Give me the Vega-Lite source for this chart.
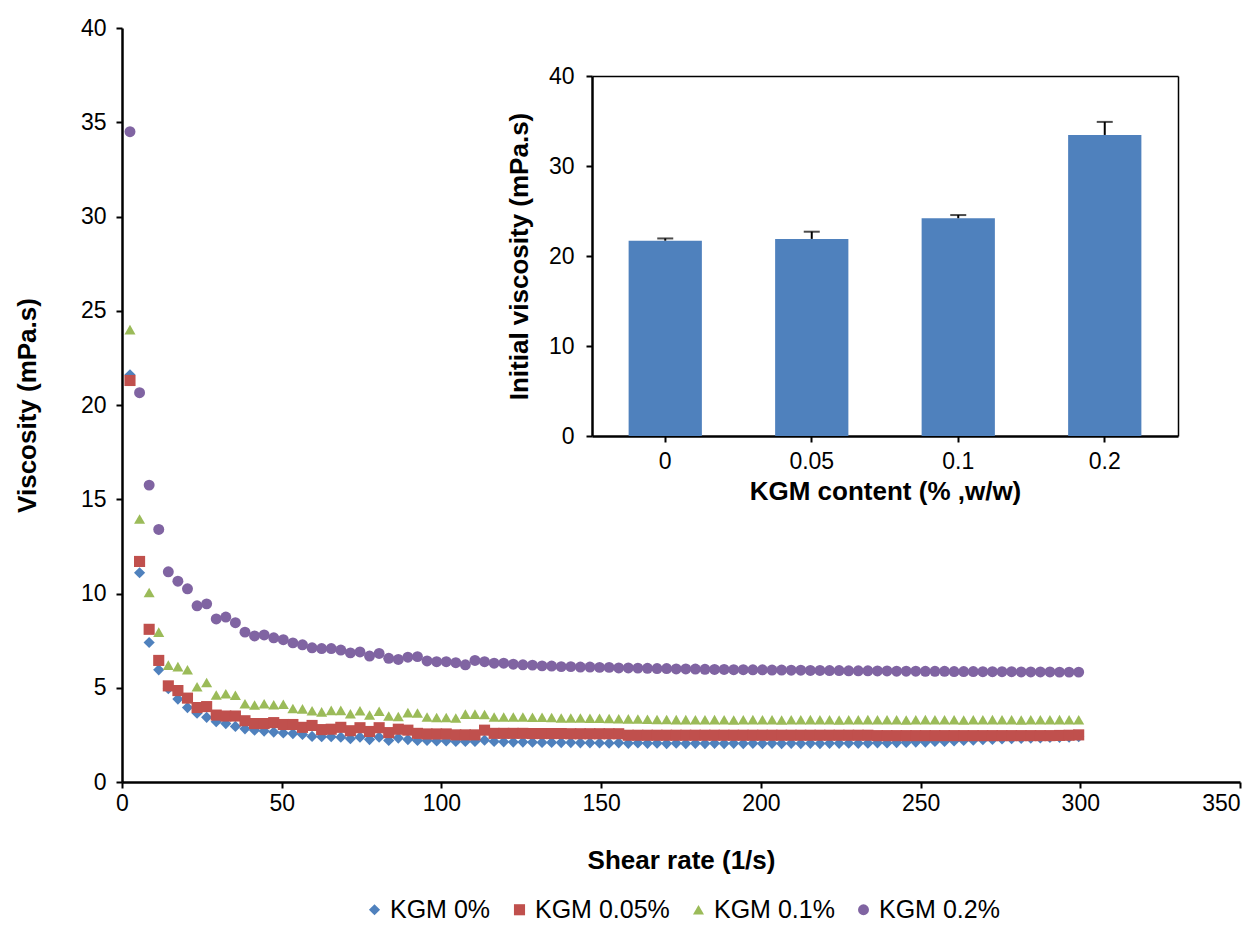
{
"$schema":"https://vega.github.io/schema/vega-lite/v6.json",
"width":1118,"height":754,"autosize":"none",
"padding":{"left":122,"top":28,"right":18,"bottom":150},
"background":"white",
"config":{"view":{"stroke":null},"font":"Liberation Sans",
"axis":{"domainColor":"black","domainWidth":2.5,"tickColor":"black","tickWidth":2,"tickSize":6,"labelColor":"black","labelFontSize":23,"labelFont":"Liberation Sans","titleFont":"Liberation Sans","titleFontSize":26,"titleFontWeight":"bold","titleColor":"black","grid":false,"labelOverlap":false,"labelFlush":false},
"legend":{"labelFont":"Liberation Sans","labelFontSize":25,"labelColor":"black","padding":0}},
"datasets":{
"curves":[
{"r":2.5,"s":"KGM 0%","v":21.6},{"r":5.5,"s":"KGM 0%","v":11.1},{"r":8.5,"s":"KGM 0%","v":7.4},{"r":11.5,"s":"KGM 0%","v":5.95},{"r":14.5,"s":"KGM 0%","v":4.95},{"r":17.5,"s":"KGM 0%","v":4.4},{"r":20.5,"s":"KGM 0%","v":3.95},{"r":23.5,"s":"KGM 0%","v":3.65},{"r":26.5,"s":"KGM 0%","v":3.43},{"r":29.5,"s":"KGM 0%","v":3.2},
{"r":32.5,"s":"KGM 0%","v":3.1},{"r":35.5,"s":"KGM 0%","v":2.95},{"r":38.5,"s":"KGM 0%","v":2.82},{"r":41.5,"s":"KGM 0%","v":2.75},{"r":44.5,"s":"KGM 0%","v":2.7},{"r":47.5,"s":"KGM 0%","v":2.65},{"r":50.5,"s":"KGM 0%","v":2.6},{"r":53.5,"s":"KGM 0%","v":2.57},{"r":56.5,"s":"KGM 0%","v":2.52},{"r":59.5,"s":"KGM 0%","v":2.42},
{"r":62.5,"s":"KGM 0%","v":2.4},{"r":65.5,"s":"KGM 0%","v":2.4},{"r":68.5,"s":"KGM 0%","v":2.38},{"r":71.5,"s":"KGM 0%","v":2.3},{"r":74.5,"s":"KGM 0%","v":2.38},{"r":77.5,"s":"KGM 0%","v":2.25},{"r":80.5,"s":"KGM 0%","v":2.38},{"r":83.5,"s":"KGM 0%","v":2.2},{"r":86.5,"s":"KGM 0%","v":2.33},{"r":89.5,"s":"KGM 0%","v":2.25},
{"r":92.5,"s":"KGM 0%","v":2.2},{"r":95.5,"s":"KGM 0%","v":2.2},{"r":98.5,"s":"KGM 0%","v":2.18},{"r":101.5,"s":"KGM 0%","v":2.18},{"r":104.5,"s":"KGM 0%","v":2.15},{"r":107.5,"s":"KGM 0%","v":2.15},{"r":110.5,"s":"KGM 0%","v":2.15},{"r":113.5,"s":"KGM 0%","v":2.22},{"r":116.5,"s":"KGM 0%","v":2.15},{"r":119.5,"s":"KGM 0%","v":2.13},
{"r":122.5,"s":"KGM 0%","v":2.12},{"r":125.5,"s":"KGM 0%","v":2.12},{"r":128.5,"s":"KGM 0%","v":2.11},{"r":131.5,"s":"KGM 0%","v":2.1},{"r":134.5,"s":"KGM 0%","v":2.1},{"r":137.5,"s":"KGM 0%","v":2.09},{"r":140.5,"s":"KGM 0%","v":2.09},{"r":143.5,"s":"KGM 0%","v":2.08},{"r":146.5,"s":"KGM 0%","v":2.08},{"r":149.5,"s":"KGM 0%","v":2.07},
{"r":152.5,"s":"KGM 0%","v":2.06},{"r":155.5,"s":"KGM 0%","v":2.08},{"r":158.5,"s":"KGM 0%","v":2.05},{"r":161.5,"s":"KGM 0%","v":2.07},{"r":164.5,"s":"KGM 0%","v":2.05},{"r":167.5,"s":"KGM 0%","v":2.06},{"r":170.5,"s":"KGM 0%","v":2.04},{"r":173.5,"s":"KGM 0%","v":2.06},{"r":176.5,"s":"KGM 0%","v":2.04},{"r":179.5,"s":"KGM 0%","v":2.05},
{"r":182.5,"s":"KGM 0%","v":2.04},{"r":185.5,"s":"KGM 0%","v":2.05},{"r":188.5,"s":"KGM 0%","v":2.04},{"r":191.5,"s":"KGM 0%","v":2.05},{"r":194.5,"s":"KGM 0%","v":2.04},{"r":197.5,"s":"KGM 0%","v":2.05},{"r":200.5,"s":"KGM 0%","v":2.04},{"r":203.5,"s":"KGM 0%","v":2.05},{"r":206.5,"s":"KGM 0%","v":2.04},{"r":209.5,"s":"KGM 0%","v":2.05},
{"r":212.5,"s":"KGM 0%","v":2.04},{"r":215.5,"s":"KGM 0%","v":2.05},{"r":218.5,"s":"KGM 0%","v":2.04},{"r":221.5,"s":"KGM 0%","v":2.05},{"r":224.5,"s":"KGM 0%","v":2.05},{"r":227.5,"s":"KGM 0%","v":2.06},{"r":230.5,"s":"KGM 0%","v":2.05},{"r":233.5,"s":"KGM 0%","v":2.06},{"r":236.5,"s":"KGM 0%","v":2.08},{"r":239.5,"s":"KGM 0%","v":2.07},
{"r":242.5,"s":"KGM 0%","v":2.09},{"r":245.5,"s":"KGM 0%","v":2.1},{"r":248.5,"s":"KGM 0%","v":2.12},{"r":251.5,"s":"KGM 0%","v":2.12},{"r":254.5,"s":"KGM 0%","v":2.15},{"r":257.5,"s":"KGM 0%","v":2.15},{"r":260.5,"s":"KGM 0%","v":2.18},{"r":263.5,"s":"KGM 0%","v":2.2},{"r":266.5,"s":"KGM 0%","v":2.22},{"r":269.5,"s":"KGM 0%","v":2.24},
{"r":272.5,"s":"KGM 0%","v":2.26},{"r":275.5,"s":"KGM 0%","v":2.28},{"r":278.5,"s":"KGM 0%","v":2.3},{"r":281.5,"s":"KGM 0%","v":2.31},{"r":284.5,"s":"KGM 0%","v":2.33},{"r":287.5,"s":"KGM 0%","v":2.34},{"r":290.5,"s":"KGM 0%","v":2.36},{"r":293.5,"s":"KGM 0%","v":2.37},{"r":296.5,"s":"KGM 0%","v":2.38},{"r":299.5,"s":"KGM 0%","v":2.4},
{"r":2.5,"s":"KGM 0.05%","v":21.3},{"r":5.5,"s":"KGM 0.05%","v":11.7},{"r":8.5,"s":"KGM 0.05%","v":8.1},{"r":11.5,"s":"KGM 0.05%","v":6.45},{"r":14.5,"s":"KGM 0.05%","v":5.1},{"r":17.5,"s":"KGM 0.05%","v":4.85},{"r":20.5,"s":"KGM 0.05%","v":4.45},{"r":23.5,"s":"KGM 0.05%","v":3.95},{"r":26.5,"s":"KGM 0.05%","v":4.0},{"r":29.5,"s":"KGM 0.05%","v":3.55},
{"r":32.5,"s":"KGM 0.05%","v":3.5},{"r":35.5,"s":"KGM 0.05%","v":3.5},{"r":38.5,"s":"KGM 0.05%","v":3.25},{"r":41.5,"s":"KGM 0.05%","v":3.1},{"r":44.5,"s":"KGM 0.05%","v":3.1},{"r":47.5,"s":"KGM 0.05%","v":3.15},{"r":50.5,"s":"KGM 0.05%","v":3.05},{"r":53.5,"s":"KGM 0.05%","v":3.05},{"r":56.5,"s":"KGM 0.05%","v":2.9},{"r":59.5,"s":"KGM 0.05%","v":3.0},
{"r":62.5,"s":"KGM 0.05%","v":2.78},{"r":65.5,"s":"KGM 0.05%","v":2.8},{"r":68.5,"s":"KGM 0.05%","v":2.9},{"r":71.5,"s":"KGM 0.05%","v":2.72},{"r":74.5,"s":"KGM 0.05%","v":2.88},{"r":77.5,"s":"KGM 0.05%","v":2.68},{"r":80.5,"s":"KGM 0.05%","v":2.88},{"r":83.5,"s":"KGM 0.05%","v":2.62},{"r":86.5,"s":"KGM 0.05%","v":2.8},{"r":89.5,"s":"KGM 0.05%","v":2.75},
{"r":92.5,"s":"KGM 0.05%","v":2.58},{"r":95.5,"s":"KGM 0.05%","v":2.55},{"r":98.5,"s":"KGM 0.05%","v":2.55},{"r":101.5,"s":"KGM 0.05%","v":2.55},{"r":104.5,"s":"KGM 0.05%","v":2.5},{"r":107.5,"s":"KGM 0.05%","v":2.5},{"r":110.5,"s":"KGM 0.05%","v":2.5},{"r":113.5,"s":"KGM 0.05%","v":2.75},{"r":116.5,"s":"KGM 0.05%","v":2.58},{"r":119.5,"s":"KGM 0.05%","v":2.58},
{"r":122.5,"s":"KGM 0.05%","v":2.58},{"r":125.5,"s":"KGM 0.05%","v":2.58},{"r":128.5,"s":"KGM 0.05%","v":2.57},{"r":131.5,"s":"KGM 0.05%","v":2.57},{"r":134.5,"s":"KGM 0.05%","v":2.57},{"r":137.5,"s":"KGM 0.05%","v":2.57},{"r":140.5,"s":"KGM 0.05%","v":2.56},{"r":143.5,"s":"KGM 0.05%","v":2.56},{"r":146.5,"s":"KGM 0.05%","v":2.56},{"r":149.5,"s":"KGM 0.05%","v":2.56},
{"r":152.5,"s":"KGM 0.05%","v":2.56},{"r":155.5,"s":"KGM 0.05%","v":2.56},{"r":158.5,"s":"KGM 0.05%","v":2.48},{"r":161.5,"s":"KGM 0.05%","v":2.48},{"r":164.5,"s":"KGM 0.05%","v":2.48},{"r":167.5,"s":"KGM 0.05%","v":2.48},{"r":170.5,"s":"KGM 0.05%","v":2.48},{"r":173.5,"s":"KGM 0.05%","v":2.48},{"r":176.5,"s":"KGM 0.05%","v":2.48},{"r":179.5,"s":"KGM 0.05%","v":2.48},
{"r":182.5,"s":"KGM 0.05%","v":2.48},{"r":185.5,"s":"KGM 0.05%","v":2.48},{"r":188.5,"s":"KGM 0.05%","v":2.48},{"r":191.5,"s":"KGM 0.05%","v":2.48},{"r":194.5,"s":"KGM 0.05%","v":2.48},{"r":197.5,"s":"KGM 0.05%","v":2.48},{"r":200.5,"s":"KGM 0.05%","v":2.48},{"r":203.5,"s":"KGM 0.05%","v":2.48},{"r":206.5,"s":"KGM 0.05%","v":2.48},{"r":209.5,"s":"KGM 0.05%","v":2.48},
{"r":212.5,"s":"KGM 0.05%","v":2.48},{"r":215.5,"s":"KGM 0.05%","v":2.48},{"r":218.5,"s":"KGM 0.05%","v":2.48},{"r":221.5,"s":"KGM 0.05%","v":2.48},{"r":224.5,"s":"KGM 0.05%","v":2.48},{"r":227.5,"s":"KGM 0.05%","v":2.48},{"r":230.5,"s":"KGM 0.05%","v":2.48},{"r":233.5,"s":"KGM 0.05%","v":2.48},{"r":236.5,"s":"KGM 0.05%","v":2.46},{"r":239.5,"s":"KGM 0.05%","v":2.46},
{"r":242.5,"s":"KGM 0.05%","v":2.46},{"r":245.5,"s":"KGM 0.05%","v":2.46},{"r":248.5,"s":"KGM 0.05%","v":2.46},{"r":251.5,"s":"KGM 0.05%","v":2.46},{"r":254.5,"s":"KGM 0.05%","v":2.46},{"r":257.5,"s":"KGM 0.05%","v":2.46},{"r":260.5,"s":"KGM 0.05%","v":2.46},{"r":263.5,"s":"KGM 0.05%","v":2.46},{"r":266.5,"s":"KGM 0.05%","v":2.46},{"r":269.5,"s":"KGM 0.05%","v":2.46},
{"r":272.5,"s":"KGM 0.05%","v":2.46},{"r":275.5,"s":"KGM 0.05%","v":2.46},{"r":278.5,"s":"KGM 0.05%","v":2.46},{"r":281.5,"s":"KGM 0.05%","v":2.46},{"r":284.5,"s":"KGM 0.05%","v":2.46},{"r":287.5,"s":"KGM 0.05%","v":2.46},{"r":290.5,"s":"KGM 0.05%","v":2.46},{"r":293.5,"s":"KGM 0.05%","v":2.47},{"r":296.5,"s":"KGM 0.05%","v":2.48},{"r":299.5,"s":"KGM 0.05%","v":2.5},
{"r":2.5,"s":"KGM 0.1%","v":24.0},{"r":5.5,"s":"KGM 0.1%","v":13.95},{"r":8.5,"s":"KGM 0.1%","v":10.05},{"r":11.5,"s":"KGM 0.1%","v":7.95},{"r":14.5,"s":"KGM 0.1%","v":6.2},{"r":17.5,"s":"KGM 0.1%","v":6.12},{"r":20.5,"s":"KGM 0.1%","v":5.95},{"r":23.5,"s":"KGM 0.1%","v":5.05},{"r":26.5,"s":"KGM 0.1%","v":5.28},{"r":29.5,"s":"KGM 0.1%","v":4.62},
{"r":32.5,"s":"KGM 0.1%","v":4.68},{"r":35.5,"s":"KGM 0.1%","v":4.6},{"r":38.5,"s":"KGM 0.1%","v":4.15},{"r":41.5,"s":"KGM 0.1%","v":4.08},{"r":44.5,"s":"KGM 0.1%","v":4.15},{"r":47.5,"s":"KGM 0.1%","v":4.1},{"r":50.5,"s":"KGM 0.1%","v":4.12},{"r":53.5,"s":"KGM 0.1%","v":3.9},{"r":56.5,"s":"KGM 0.1%","v":3.88},{"r":59.5,"s":"KGM 0.1%","v":3.78},
{"r":62.5,"s":"KGM 0.1%","v":3.72},{"r":65.5,"s":"KGM 0.1%","v":3.8},{"r":68.5,"s":"KGM 0.1%","v":3.8},{"r":71.5,"s":"KGM 0.1%","v":3.62},{"r":74.5,"s":"KGM 0.1%","v":3.78},{"r":77.5,"s":"KGM 0.1%","v":3.55},{"r":80.5,"s":"KGM 0.1%","v":3.75},{"r":83.5,"s":"KGM 0.1%","v":3.5},{"r":86.5,"s":"KGM 0.1%","v":3.48},{"r":89.5,"s":"KGM 0.1%","v":3.68},
{"r":92.5,"s":"KGM 0.1%","v":3.66},{"r":95.5,"s":"KGM 0.1%","v":3.45},{"r":98.5,"s":"KGM 0.1%","v":3.42},{"r":101.5,"s":"KGM 0.1%","v":3.42},{"r":104.5,"s":"KGM 0.1%","v":3.4},{"r":107.5,"s":"KGM 0.1%","v":3.6},{"r":110.5,"s":"KGM 0.1%","v":3.6},{"r":113.5,"s":"KGM 0.1%","v":3.58},{"r":116.5,"s":"KGM 0.1%","v":3.45},{"r":119.5,"s":"KGM 0.1%","v":3.45},
{"r":122.5,"s":"KGM 0.1%","v":3.45},{"r":125.5,"s":"KGM 0.1%","v":3.45},{"r":128.5,"s":"KGM 0.1%","v":3.44},{"r":131.5,"s":"KGM 0.1%","v":3.43},{"r":134.5,"s":"KGM 0.1%","v":3.42},{"r":137.5,"s":"KGM 0.1%","v":3.4},{"r":140.5,"s":"KGM 0.1%","v":3.4},{"r":143.5,"s":"KGM 0.1%","v":3.4},{"r":146.5,"s":"KGM 0.1%","v":3.38},{"r":149.5,"s":"KGM 0.1%","v":3.38},
{"r":152.5,"s":"KGM 0.1%","v":3.37},{"r":155.5,"s":"KGM 0.1%","v":3.36},{"r":158.5,"s":"KGM 0.1%","v":3.35},{"r":161.5,"s":"KGM 0.1%","v":3.34},{"r":164.5,"s":"KGM 0.1%","v":3.33},{"r":167.5,"s":"KGM 0.1%","v":3.32},{"r":170.5,"s":"KGM 0.1%","v":3.32},{"r":173.5,"s":"KGM 0.1%","v":3.31},{"r":176.5,"s":"KGM 0.1%","v":3.31},{"r":179.5,"s":"KGM 0.1%","v":3.3},
{"r":182.5,"s":"KGM 0.1%","v":3.3},{"r":185.5,"s":"KGM 0.1%","v":3.31},{"r":188.5,"s":"KGM 0.1%","v":3.3},{"r":191.5,"s":"KGM 0.1%","v":3.29},{"r":194.5,"s":"KGM 0.1%","v":3.3},{"r":197.5,"s":"KGM 0.1%","v":3.31},{"r":200.5,"s":"KGM 0.1%","v":3.3},{"r":203.5,"s":"KGM 0.1%","v":3.3},{"r":206.5,"s":"KGM 0.1%","v":3.29},{"r":209.5,"s":"KGM 0.1%","v":3.3},
{"r":212.5,"s":"KGM 0.1%","v":3.3},{"r":215.5,"s":"KGM 0.1%","v":3.31},{"r":218.5,"s":"KGM 0.1%","v":3.3},{"r":221.5,"s":"KGM 0.1%","v":3.3},{"r":224.5,"s":"KGM 0.1%","v":3.29},{"r":227.5,"s":"KGM 0.1%","v":3.3},{"r":230.5,"s":"KGM 0.1%","v":3.3},{"r":233.5,"s":"KGM 0.1%","v":3.31},{"r":236.5,"s":"KGM 0.1%","v":3.3},{"r":239.5,"s":"KGM 0.1%","v":3.3},
{"r":242.5,"s":"KGM 0.1%","v":3.3},{"r":245.5,"s":"KGM 0.1%","v":3.29},{"r":248.5,"s":"KGM 0.1%","v":3.3},{"r":251.5,"s":"KGM 0.1%","v":3.31},{"r":254.5,"s":"KGM 0.1%","v":3.3},{"r":257.5,"s":"KGM 0.1%","v":3.3},{"r":260.5,"s":"KGM 0.1%","v":3.3},{"r":263.5,"s":"KGM 0.1%","v":3.29},{"r":266.5,"s":"KGM 0.1%","v":3.3},{"r":269.5,"s":"KGM 0.1%","v":3.3},
{"r":272.5,"s":"KGM 0.1%","v":3.31},{"r":275.5,"s":"KGM 0.1%","v":3.3},{"r":278.5,"s":"KGM 0.1%","v":3.3},{"r":281.5,"s":"KGM 0.1%","v":3.29},{"r":284.5,"s":"KGM 0.1%","v":3.3},{"r":287.5,"s":"KGM 0.1%","v":3.3},{"r":290.5,"s":"KGM 0.1%","v":3.3},{"r":293.5,"s":"KGM 0.1%","v":3.31},{"r":296.5,"s":"KGM 0.1%","v":3.3},{"r":299.5,"s":"KGM 0.1%","v":3.3},
{"r":2.5,"s":"KGM 0.2%","v":34.5},{"r":5.5,"s":"KGM 0.2%","v":20.65},{"r":8.5,"s":"KGM 0.2%","v":15.75},{"r":11.5,"s":"KGM 0.2%","v":13.4},{"r":14.5,"s":"KGM 0.2%","v":11.15},{"r":17.5,"s":"KGM 0.2%","v":10.65},{"r":20.5,"s":"KGM 0.2%","v":10.25},{"r":23.5,"s":"KGM 0.2%","v":9.35},{"r":26.5,"s":"KGM 0.2%","v":9.45},{"r":29.5,"s":"KGM 0.2%","v":8.65},
{"r":32.5,"s":"KGM 0.2%","v":8.75},{"r":35.5,"s":"KGM 0.2%","v":8.45},{"r":38.5,"s":"KGM 0.2%","v":7.95},{"r":41.5,"s":"KGM 0.2%","v":7.75},{"r":44.5,"s":"KGM 0.2%","v":7.8},{"r":47.5,"s":"KGM 0.2%","v":7.65},{"r":50.5,"s":"KGM 0.2%","v":7.55},{"r":53.5,"s":"KGM 0.2%","v":7.38},{"r":56.5,"s":"KGM 0.2%","v":7.28},{"r":59.5,"s":"KGM 0.2%","v":7.12},
{"r":62.5,"s":"KGM 0.2%","v":7.08},{"r":65.5,"s":"KGM 0.2%","v":7.08},{"r":68.5,"s":"KGM 0.2%","v":7.0},{"r":71.5,"s":"KGM 0.2%","v":6.85},{"r":74.5,"s":"KGM 0.2%","v":6.9},{"r":77.5,"s":"KGM 0.2%","v":6.68},{"r":80.5,"s":"KGM 0.2%","v":6.82},{"r":83.5,"s":"KGM 0.2%","v":6.56},{"r":86.5,"s":"KGM 0.2%","v":6.5},{"r":89.5,"s":"KGM 0.2%","v":6.62},
{"r":92.5,"s":"KGM 0.2%","v":6.65},{"r":95.5,"s":"KGM 0.2%","v":6.42},{"r":98.5,"s":"KGM 0.2%","v":6.38},{"r":101.5,"s":"KGM 0.2%","v":6.38},{"r":104.5,"s":"KGM 0.2%","v":6.33},{"r":107.5,"s":"KGM 0.2%","v":6.22},{"r":110.5,"s":"KGM 0.2%","v":6.45},{"r":113.5,"s":"KGM 0.2%","v":6.38},{"r":116.5,"s":"KGM 0.2%","v":6.3},{"r":119.5,"s":"KGM 0.2%","v":6.3},
{"r":122.5,"s":"KGM 0.2%","v":6.25},{"r":125.5,"s":"KGM 0.2%","v":6.22},{"r":128.5,"s":"KGM 0.2%","v":6.2},{"r":131.5,"s":"KGM 0.2%","v":6.16},{"r":134.5,"s":"KGM 0.2%","v":6.15},{"r":137.5,"s":"KGM 0.2%","v":6.12},{"r":140.5,"s":"KGM 0.2%","v":6.12},{"r":143.5,"s":"KGM 0.2%","v":6.1},{"r":146.5,"s":"KGM 0.2%","v":6.1},{"r":149.5,"s":"KGM 0.2%","v":6.08},
{"r":152.5,"s":"KGM 0.2%","v":6.08},{"r":155.5,"s":"KGM 0.2%","v":6.05},{"r":158.5,"s":"KGM 0.2%","v":6.05},{"r":161.5,"s":"KGM 0.2%","v":6.04},{"r":164.5,"s":"KGM 0.2%","v":6.03},{"r":167.5,"s":"KGM 0.2%","v":6.02},{"r":170.5,"s":"KGM 0.2%","v":6.02},{"r":173.5,"s":"KGM 0.2%","v":6.0},{"r":176.5,"s":"KGM 0.2%","v":6.0},{"r":179.5,"s":"KGM 0.2%","v":5.99},
{"r":182.5,"s":"KGM 0.2%","v":5.98},{"r":185.5,"s":"KGM 0.2%","v":5.97},{"r":188.5,"s":"KGM 0.2%","v":5.97},{"r":191.5,"s":"KGM 0.2%","v":5.96},{"r":194.5,"s":"KGM 0.2%","v":5.96},{"r":197.5,"s":"KGM 0.2%","v":5.95},{"r":200.5,"s":"KGM 0.2%","v":5.95},{"r":203.5,"s":"KGM 0.2%","v":5.94},{"r":206.5,"s":"KGM 0.2%","v":5.94},{"r":209.5,"s":"KGM 0.2%","v":5.93},
{"r":212.5,"s":"KGM 0.2%","v":5.93},{"r":215.5,"s":"KGM 0.2%","v":5.92},{"r":218.5,"s":"KGM 0.2%","v":5.92},{"r":221.5,"s":"KGM 0.2%","v":5.91},{"r":224.5,"s":"KGM 0.2%","v":5.91},{"r":227.5,"s":"KGM 0.2%","v":5.9},{"r":230.5,"s":"KGM 0.2%","v":5.9},{"r":233.5,"s":"KGM 0.2%","v":5.9},{"r":236.5,"s":"KGM 0.2%","v":5.89},{"r":239.5,"s":"KGM 0.2%","v":5.89},
{"r":242.5,"s":"KGM 0.2%","v":5.88},{"r":245.5,"s":"KGM 0.2%","v":5.88},{"r":248.5,"s":"KGM 0.2%","v":5.88},{"r":251.5,"s":"KGM 0.2%","v":5.87},{"r":254.5,"s":"KGM 0.2%","v":5.87},{"r":257.5,"s":"KGM 0.2%","v":5.87},{"r":260.5,"s":"KGM 0.2%","v":5.86},{"r":263.5,"s":"KGM 0.2%","v":5.86},{"r":266.5,"s":"KGM 0.2%","v":5.86},{"r":269.5,"s":"KGM 0.2%","v":5.85},
{"r":272.5,"s":"KGM 0.2%","v":5.85},{"r":275.5,"s":"KGM 0.2%","v":5.85},{"r":278.5,"s":"KGM 0.2%","v":5.85},{"r":281.5,"s":"KGM 0.2%","v":5.84},{"r":284.5,"s":"KGM 0.2%","v":5.84},{"r":287.5,"s":"KGM 0.2%","v":5.84},{"r":290.5,"s":"KGM 0.2%","v":5.84},{"r":293.5,"s":"KGM 0.2%","v":5.83},{"r":296.5,"s":"KGM 0.2%","v":5.83},{"r":299.5,"s":"KGM 0.2%","v":5.83}
],
"bars":[{"kgm":"0","v":21.7,"hi":21.95},{"kgm":"0.05","v":21.9,"hi":22.7},{"kgm":"0.1","v":24.2,"hi":24.55},{"kgm":"0.2","v":33.45,"hi":34.9}]
},
"layer":[
{"data":{"name":"curves"},
 "mark":{"type":"point","filled":true,"opacity":1},
 "encoding":{
  "x":{"field":"r","type":"quantitative","scale":{"domain":[0,350],"nice":false},
   "axis":{"title":"Shear rate (1/s)","values":[0,50,100,150,200,250,300,350],"labelPadding":4,"titlePadding":32,
    "labelAlign":{"condition":{"test":"datum.value == 350","value":"right"},"value":"center"},
    "labelDx":{"condition":{"test":"datum.value == 350","value":-2},"value":0}}},
  "y":{"field":"v","type":"quantitative","scale":{"domain":[0,40],"nice":false},
   "axis":{"title":"Viscosity (mPa.s)","values":[0,5,10,15,20,25,30,35,40],"labelPadding":10,"titlePadding":40}},
  "color":{"field":"s","type":"nominal","scale":{"domain":["KGM 0%","KGM 0.05%","KGM 0.1%","KGM 0.2%"],"range":["#4F81BD","#C0504D","#9BBB59","#8064A2"]},
   "legend":{"orient":"none","legendX":240,"legendY":869,"direction":"horizontal","columns":4,"title":null,"symbolSize":140,"labelOffset":3,"columnPadding":16,"symbolStrokeWidth":0}},
  "shape":{"field":"s","type":"nominal","scale":{"domain":["KGM 0%","KGM 0.05%","KGM 0.1%","KGM 0.2%"],"range":["diamond","square","triangle-up","circle"]}},
  "size":{"field":"s","type":"nominal","scale":{"domain":["KGM 0%","KGM 0.05%","KGM 0.1%","KGM 0.2%"],"range":[125,120,150,150]},"legend":null}
 }},
{"data":{"name":"bars"},
 "layer":[
  {"mark":{"type":"bar","color":"#4F81BD"},
   "encoding":{
    "x":{"field":"kgm","type":"ordinal","scale":{"domain":["0","0.05","0.1","0.2"],"range":[470,1056],"paddingInner":0.5,"paddingOuter":0.25},
     "axis":{"orient":"bottom","offset":-346,"title":"KGM content (% ,w/w)","labelAngle":0,"labelPadding":8,"titlePadding":5}},
    "y":{"field":"v","type":"quantitative","scale":{"domain":[0,40],"range":[408,48],"nice":false},
     "axis":{"orient":"left","offset":-470,"values":[0,10,20,30,40],"title":"Initial viscosity (mPa.s)","labelPadding":12,"titlePadding":16}}}},
  {"mark":{"type":"rule","color":"black","strokeWidth":2},
   "encoding":{"x":{"field":"kgm","type":"ordinal","axis":null},"y":{"field":"v","type":"quantitative","axis":null},"y2":{"field":"hi"}}},
  {"mark":{"type":"tick","orient":"horizontal","size":16,"thickness":2,"color":"black"},
   "encoding":{"x":{"field":"kgm","type":"ordinal","axis":{"orient":"top","offset":-48,"labels":false,"ticks":false,"title":null,"domainWidth":1.5}},
    "y":{"field":"hi","type":"quantitative","axis":{"orient":"right","offset":-62,"labels":false,"ticks":false,"title":null,"domainWidth":1.5}}}}
 ],
 "resolve":{"axis":{"x":"independent","y":"independent"}}}
],
"resolve":{"scale":{"x":"independent","y":"independent"},"axis":{"x":"independent","y":"independent"}}
}
